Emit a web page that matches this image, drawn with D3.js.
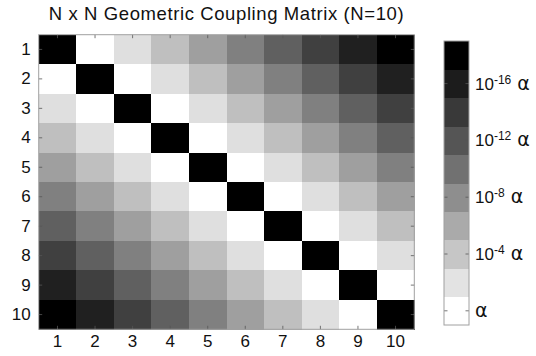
<!DOCTYPE html>
<html>
<head>
<meta charset="utf-8">
<script src="https://cdn.jsdelivr.net/npm/d3@7"></script>
<style>
  body { margin: 0; background: #fff; }
  svg { display: block; font-family: "Liberation Sans", Arial, Helvetica, sans-serif; }
  .axis-frame { fill: none; stroke: #a0a0a0; stroke-width: 1; }
  .tick-mark { stroke: #555; stroke-width: 0.8; }
</style>
</head>
<body>
<svg id="chart" width="536" height="356"></svg>
<script>
// matrix rows / columns
var rowLabels = ["1", "2", "3", "4", "5", "6", "7", "8", "9", "10"];
var colLabels = ["1", "2", "3", "4", "5", "6", "7", "8", "9", "10"];

var couplingExp = [
    [-18, 0, -2.25, -4.5, -6.75, -9, -11.25, -13.5, -15.75, -18],
    [0, -18, 0, -2.25, -4.5, -6.75, -9, -11.25, -13.5, -15.75],
    [-2.25, 0, -18, 0, -2.25, -4.5, -6.75, -9, -11.25, -13.5],
    [-4.5, -2.25, 0, -18, 0, -2.25, -4.5, -6.75, -9, -11.25],
    [-6.75, -4.5, -2.25, 0, -18, 0, -2.25, -4.5, -6.75, -9],
    [-9, -6.75, -4.5, -2.25, 0, -18, 0, -2.25, -4.5, -6.75],
    [-11.25, -9, -6.75, -4.5, -2.25, 0, -18, 0, -2.25, -4.5],
    [-13.5, -11.25, -9, -6.75, -4.5, -2.25, 0, -18, 0, -2.25],
    [-15.75, -13.5, -11.25, -9, -6.75, -4.5, -2.25, 0, -18, 0],
    [-18, -15.75, -13.5, -11.25, -9, -6.75, -4.5, -2.25, 0, -18]
];

// colour bar bands and labels
var barExp = [0, -2, -4, -6, -8, -10, -12, -14, -16, -18];
var barTickExp = [0, -4, -8, -12, -16];
var barTickSup = ["", "-4", "-8", "-12", "-16"];

var titleText = "N x N Geometric Coupling Matrix (N=10)";

var svg = d3.select("#chart");

var plot = { left: 38.7, top: 34.7, right: 414.3, bottom: 329.3 };
var bar = { left: 444, top: 41, right: 469, bottom: 325 };

var color = d3.scaleLinear()
    .domain([-18, 0])
    .range(["#000000", "#ffffff"]);

var xScale = d3.scaleBand().domain(colLabels).range([plot.left, plot.right]);
var yScale = d3.scaleBand().domain(rowLabels).range([plot.top, plot.bottom]);

// title
svg.append("text")
    .attr("x", (plot.left + plot.right) / 2)
    .attr("y", 20)
    .attr("text-anchor", "middle")
    .attr("font-size", 18.5)
    .attr("letter-spacing", 0.6)
    .attr("fill", "#111")
    .text(titleText);

// cells
var cells = [];
couplingExp.forEach(function (row, i) {
    row.forEach(function (v, j) {
        cells.push({ r: rowLabels[i], c: colLabels[j], v: v });
    });
});

svg.append("g").selectAll("rect")
    .data(cells)
    .enter().append("rect")
    .attr("x", function (d) { return xScale(d.c); })
    .attr("y", function (d) { return yScale(d.r); })
    .attr("width", xScale.bandwidth() + 0.5)
    .attr("height", yScale.bandwidth() + 0.5)
    .attr("fill", function (d) { return color(d.v); })
    .attr("shape-rendering", "crispEdges");

// axes (ticks inward on all four sides, like the original)
var tickLen = 3.5;
var ticks = svg.append("g");
colLabels.forEach(function (c) {
    var x = xScale(c) + xScale.bandwidth() / 2;
    ticks.append("line").attr("class", "tick-mark")
        .attr("x1", x).attr("x2", x).attr("y1", plot.top).attr("y2", plot.top + tickLen);
    ticks.append("line").attr("class", "tick-mark")
        .attr("x1", x).attr("x2", x).attr("y1", plot.bottom).attr("y2", plot.bottom - tickLen);
});
rowLabels.forEach(function (r) {
    var y = yScale(r) + yScale.bandwidth() / 2;
    ticks.append("line").attr("class", "tick-mark")
        .attr("x1", plot.left).attr("x2", plot.left + tickLen).attr("y1", y).attr("y2", y);
    ticks.append("line").attr("class", "tick-mark")
        .attr("x1", plot.right).attr("x2", plot.right - tickLen).attr("y1", y).attr("y2", y);
});

svg.append("rect").attr("class", "axis-frame")
    .attr("x", plot.left).attr("y", plot.top)
    .attr("width", plot.right - plot.left).attr("height", plot.bottom - plot.top);

var xAxis = d3.axisBottom(xScale).tickSize(0).tickPadding(6);
var yAxis = d3.axisLeft(yScale).tickSize(0).tickPadding(8);

var gx = svg.append("g")
    .attr("transform", "translate(0," + plot.bottom + ")")
    .call(xAxis);
var gy = svg.append("g")
    .attr("transform", "translate(" + plot.left + ",0)")
    .call(yAxis);
[gx, gy].forEach(function (g) {
    g.select(".domain").remove();
    g.selectAll("text")
        .attr("font-size", 17)
        .attr("font-family", "Liberation Sans, Arial, sans-serif")
        .attr("fill", "#111");
});

// colour bar
var barScale = d3.scaleLinear().domain([1, -19]).range([bar.bottom, bar.top]);

svg.append("g").selectAll("rect")
    .data(barExp)
    .enter().append("rect")
    .attr("x", bar.left)
    .attr("y", function (d) { return barScale(d - 1); })
    .attr("width", bar.right - bar.left)
    .attr("height", function (d) { return barScale(d + 1) - barScale(d - 1) + 0.5; })
    .attr("fill", function (d) { return color(d); })
    .attr("shape-rendering", "crispEdges");

var bt = svg.append("g");
barTickExp.forEach(function (e) {
    var y = barScale(e);
    bt.append("line").attr("class", "tick-mark")
        .attr("x1", bar.left).attr("x2", bar.left + tickLen).attr("y1", y).attr("y2", y);
    bt.append("line").attr("class", "tick-mark")
        .attr("x1", bar.right).attr("x2", bar.right - tickLen).attr("y1", y).attr("y2", y);
});

svg.append("rect").attr("class", "axis-frame")
    .attr("x", bar.left).attr("y", bar.top)
    .attr("width", bar.right - bar.left).attr("height", bar.bottom - bar.top);

barTickExp.forEach(function (e, i) {
    var t = svg.append("text")
        .attr("x", bar.right + 6)
        .attr("y", barScale(e) + 6)
        .attr("font-size", 17)
        .attr("fill", "#111");
    if (barTickSup[i] === "") {
        t.append("tspan").attr("font-size", 19).attr("font-family", "DejaVu Sans, sans-serif").text("\u03b1");
    } else {
        t.append("tspan").text("10");
        t.append("tspan").attr("dy", -6).attr("font-size", 12).text(barTickSup[i]);
        t.append("tspan").attr("dy", 6).attr("font-size", 19)
            .attr("font-family", "DejaVu Sans, sans-serif").text(" \u03b1");
    }
});
</script>
</body>
</html>
